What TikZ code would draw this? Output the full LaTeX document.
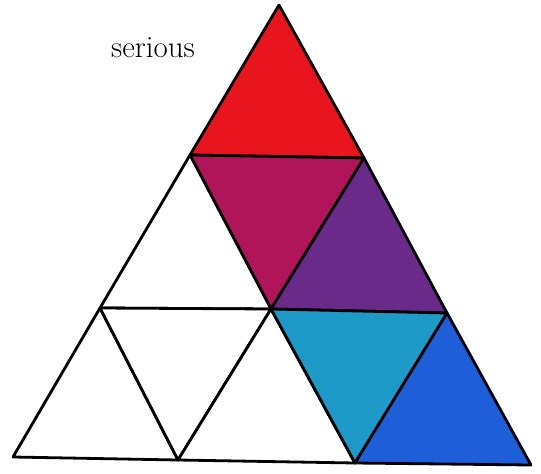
\documentclass[tikz,border=0pt]{standalone}
\definecolor{tred}{HTML}{E8141E}
\definecolor{tmagenta}{HTML}{B0155A}
\definecolor{tpurple}{HTML}{6A2A8A}
\definecolor{tcyan}{HTML}{1E9AC8}
\definecolor{tblue}{HTML}{1E5ED8}
\begin{document}
\begin{tikzpicture}[x=1pt, y=-1pt, line join=round,
		cell/.style={draw=black, line width=2.8pt}]
		\useasboundingbox (0,0) rectangle (541,474);
		% grid points, row by row
		\coordinate (t)  at (279,5);
		\coordinate (a1) at (190,155);
		\coordinate (b1) at (364,158);
		\coordinate (a2) at (100,308);
		\coordinate (b2) at (271,309);
		\coordinate (c2) at (447,313);
		\coordinate (a3) at (13,457);
		\coordinate (b3) at (178,460);
		\coordinate (c3) at (355,463);
		\coordinate (d3) at (531,465);
		\foreach \p/\q/\r/\col in {t/a1/b1/tred, a1/b1/b2/tmagenta, a1/a2/b2/white,
			b1/b2/c2/tpurple, a2/a3/b3/white, a2/b2/b3/white, b2/b3/c3/white,
			b2/c2/c3/tcyan, c2/c3/d3/tblue}{
			\filldraw[cell, fill=\col] (\p) -- (\q) -- (\r) -- cycle;
		}
		\node[anchor=base] (lbl) at (153,57) {\fontsize{31}{36}\selectfont serious};
	\end{tikzpicture}
\end{document}
